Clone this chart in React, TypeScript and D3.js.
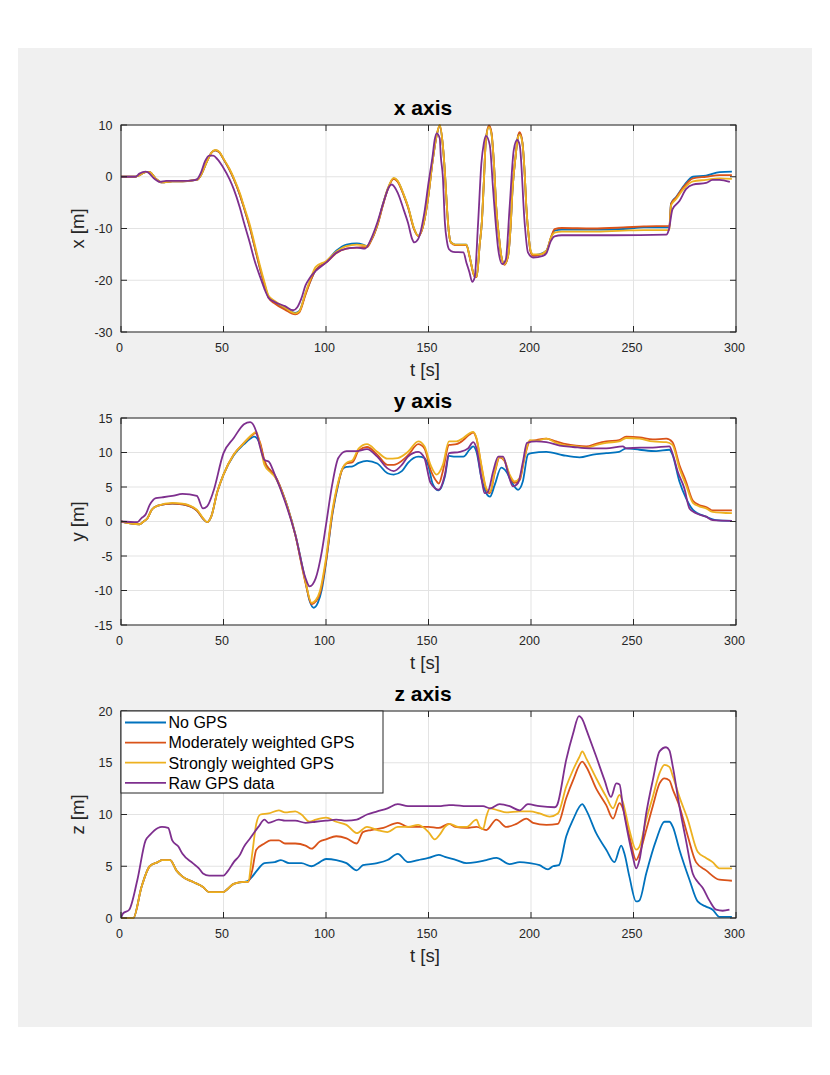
import React from 'react';
import * as d3 from 'd3';

type Pt = [number, number];

const SERIES_NAMES = ['No GPS', 'Moderately weighted GPS', 'Strongly weighted GPS', 'Raw GPS data'];
const COLORS = ['#0072BD', '#D95319', '#EDB120', '#7E2F8E'];
const T_TICKS = [0, 50, 100, 150, 200, 250, 300];
const X_TICKS = [-30, -20, -10, 0, 10];
const Y_TICKS = [-15, -10, -5, 0, 5, 10, 15];
const Z_TICKS = [0, 5, 10, 15, 20];

// ---------- x axis ----------
const xNoGps: Pt[] = [[0,0],[7,0],[9,0.3],[12,0.9],[14,0.9],[17,-0.4],[20,-1.1],[25,-0.9],[30,-0.9],[35,-0.7],[37.5,-0.5],[39,0.3],[42,3],[44,4.6],[46,5.1],[48,4.7],[50,3.4],[53,1.3],[55,-0.4],[58,-3.5],[60,-6],[63,-10],[65,-13.2],[68,-18],[70,-20.8],[72,-23.2],[75,-24.2],[80,-25.4],[85,-26.3],[87,-25.9],[90,-22.6],[92,-20.5],[95,-18],[100,-16.5],[105,-14.3],[110,-13.1],[115,-12.9],[118,-13.1],[120,-13.4],[122,-12.3],[125,-9.4],[128,-5],[130,-2.5],[133,-0.3],[135,-0.9],[138,-3.6],[140,-5.8],[143,-10.1],[145,-11.4],[147,-10],[150,-3.5],[152,3],[154,8],[155.5,9.8],[157,6],[158,0.8],[159,-6],[160,-11],[161,-12.7],[163,-13.1],[168.5,-13.1],[170,-15.3],[172.5,-19.2],[173.5,-19.3],[175,-13],[176,-8.9],[177,-1],[178,7.1],[179.5,9.8],[180.7,8.4],[182,2],[183,-5.7],[184.5,-12],[185.5,-15.3],[187,-16.9],[188.8,-15.3],[190,-10],[191,-2.4],[192.5,4],[193.7,7.9],[194.5,8.4],[195.8,6.6],[197,0],[197.7,-5.7],[199,-12],[199.7,-14.2],[201,-15.1],[204,-15],[207.5,-14.3],[210,-11.5],[211.5,-10.4],[215,-10.2],[230,-10.2],[245,-10.1],[255,-9.8],[267.5,-9.8],[268.3,-5.2],[270.8,-3.9],[275,-1.5],[279,0],[285.4,0.2],[292,0.9],[298,1.0]];
const xModerate: Pt[] = [[0,0],[7,0],[9,0.3],[12,0.9],[14,0.9],[17,-0.4],[20,-1.1],[25,-0.9],[30,-0.9],[35,-0.7],[37.5,-0.5],[39,0.3],[42,3],[44,4.6],[46,5.1],[48,4.7],[50,3.4],[53,1.3],[55,-0.4],[58,-3.5],[60,-6],[63,-10],[65,-13.2],[68,-18],[70,-20.8],[72,-23.4],[75,-24.5],[80,-25.7],[85,-26.6],[87,-26.2],[90,-22.8],[92,-20.6],[95,-18],[100,-16.6],[105,-14.8],[110,-13.9],[115,-13.7],[118,-13.6],[120,-13.6],[122,-12.4],[125,-9.5],[128,-5.2],[130,-2.6],[133,-0.4],[135,-1],[138,-3.7],[140,-5.9],[143,-10.2],[145,-11.5],[147,-10.1],[150,-3.6],[152,3],[154,8],[155.5,9.9],[157,6],[158,0.8],[159,-6],[160,-11],[161,-12.8],[163,-13.2],[168.5,-13.2],[170,-15.4],[172.5,-19.3],[173.5,-19.4],[175,-13],[176,-8.9],[177,-1],[178,7.2],[179.5,9.9],[180.7,8.6],[182,2],[183,-5.7],[184.5,-12],[185.5,-15.3],[187,-17],[188.8,-15.4],[190,-10],[191,-2.4],[192.5,4],[193.7,7.9],[194.5,8.6],[195.8,6.7],[197,0],[197.7,-5.7],[199,-12],[199.7,-14.4],[201,-15.3],[204,-15.1],[207.5,-14.4],[210,-11.4],[211.5,-10.1],[215,-9.9],[230,-10],[245,-9.8],[255,-9.6],[267.5,-9.5],[268.3,-5.3],[270.8,-4],[275,-1.7],[279,-0.3],[285.4,0],[292,0.3],[298,0.3]];
const xStrong: Pt[] = [[0,0],[7,0],[9,0.3],[12,0.9],[14,0.9],[17,-0.4],[20,-1.1],[25,-0.9],[30,-0.9],[35,-0.7],[37.5,-0.5],[39,0.3],[42,3],[44,4.6],[46,5.2],[48,4.8],[50,3.5],[53,1.5],[55,-0.2],[58,-3.2],[60,-5.7],[63,-9.5],[65,-12.7],[68,-17.5],[70,-20.4],[72,-23],[75,-24],[80,-25.3],[85,-26.4],[87,-26],[90,-22.4],[92,-20.2],[95,-17.4],[100,-16.3],[105,-14.5],[110,-13.4],[115,-13.1],[118,-13.2],[120,-13.4],[122,-12.2],[125,-9.3],[128,-5],[130,-2.4],[133,-0.2],[135,-0.8],[138,-3.5],[140,-5.7],[143,-10],[145,-11.4],[147,-10],[150,-3.5],[152,3],[154,8],[155.5,10],[157,6],[158,0.8],[159,-6],[160,-11],[161,-12.7],[163,-13.1],[168.5,-13.1],[170,-15.3],[172.5,-19.2],[173.5,-19.3],[175,-13],[176,-8.9],[177,-1],[178,7.1],[179.5,9.6],[180.7,8.3],[182,2],[183,-5.7],[184.5,-12],[185.5,-15.3],[187,-16.9],[188.8,-15.3],[190,-10],[191,-2.4],[192.5,4],[193.7,7.7],[194.5,8.1],[195.8,6.5],[197,0],[197.7,-5.7],[199,-12],[199.7,-14],[201,-15],[204,-15],[207.5,-14.3],[210,-11.5],[211.5,-10.8],[215,-10.6],[230,-10.6],[245,-10.4],[255,-10.3],[267.5,-10.3],[268.3,-5.6],[270.8,-4.3],[275,-2.1],[279,-0.9],[285.4,-0.6],[292,-0.3],[298,-0.4]];
const xRaw: Pt[] = [[0,0],[7,0],[9,0.6],[12,1.0],[13,0.9],[16,-0.3],[19,-1.0],[22,-0.8],[30,-0.8],[35,-0.7],[37,-0.5],[39,0.8],[41,3],[43,4.1],[45,4.1],[47,3.4],[50,1.7],[53,-0.5],[55,-2.4],[58,-6],[60,-8.9],[63,-13],[65,-16],[68,-19.5],[70,-21.7],[72,-23.4],[75,-24.2],[80,-25],[84,-25.8],[86,-25.2],[88,-23.5],[90,-21],[92,-19.6],[95,-18.2],[100,-16.6],[105,-14.7],[110,-13.9],[115,-13.7],[119,-13.9],[122,-12],[125,-8.9],[128,-5],[131,-1.8],[132,-1.5],[135,-3.1],[138,-6.5],[140,-8.9],[142,-12],[143,-12.7],[145,-12],[148,-6.9],[150,-1.2],[152,4],[153,7.1],[154,8.4],[155.5,7.4],[156,4],[157,0],[158,-8.9],[159,-12.5],[160,-14],[162,-14.5],[167,-14.6],[168.5,-16.6],[170,-18.5],[171.3,-20.3],[172.5,-19.5],[174.2,-8.9],[175.8,2.6],[177,6.5],[178,7.9],[179.9,6.1],[181.5,-2.4],[183,-10],[184,-14],[186,-16.9],[187.7,-16],[189.6,-5.7],[191.6,5.2],[193.2,7.1],[194.5,6.1],[196.9,-8.9],[198.5,-14.6],[201,-15.6],[205.8,-15.3],[207.5,-14.8],[209.6,-12.5],[211.5,-11.5],[215,-11.3],[240,-11.3],[266,-11.2],[267.2,-10.3],[269,-6.3],[272.4,-4.7],[275.6,-2.4],[279,-1.5],[285.4,-1.2],[288.6,-0.6],[292,-0.6],[297,-1.0]];

// ---------- y axis ----------
const yNoGps: Pt[] = [[0,0],[9,-0.4],[11,0],[13,0.5],[15,1.7],[18,2.3],[25,2.6],[30,2.5],[37,1.6],[40,0.4],[42,-0.1],[44,0.7],[47,4.3],[50,6.8],[55,9.6],[60,11.2],[63,12.0],[65,12.3],[68,11.0],[70,8.6],[73,7.3],[75,6.6],[80,3.2],[85,-1.8],[90,-8.7],[92,-11.5],[94,-12.5],[96,-11.8],[98,-9.8],[100,-6],[103,0.8],[106,5.4],[108,7.6],[110,7.9],[113,8.0],[116,8.5],[120,8.8],[125,8.4],[130,7.0],[133,6.8],[137,7.3],[140,8.5],[145,9.4],[148,9.2],[150,8],[152,5.5],[155,4.5],[158,6.5],[160,9.5],[163,9.4],[167,9.4],[170,10.4],[171.8,10.9],[173.4,10.1],[175.8,6.3],[178,4.2],[180,3.6],[182.3,5.3],[185.5,7.8],[188,7.2],[190.4,5.8],[193.7,4.6],[196,5.8],[198.5,9.7],[200.2,9.9],[207.5,10.1],[215.6,9.6],[223.7,9.3],[230.2,9.7],[236.7,9.9],[243,10.1],[246.4,10.6],[253,10.4],[261,10.2],[267.5,10.4],[269,9.7],[272.4,5.8],[275.6,3.4],[279,1.7],[285.4,0.7],[290.3,0.2],[298,0.1]];
const yModerate: Pt[] = [[0,0],[9,-0.4],[11,0],[13,0.5],[15,1.7],[18,2.3],[25,2.6],[30,2.5],[37,1.6],[40,0.4],[42,-0.1],[44,0.7],[47,4.3],[50,6.8],[55,9.7],[60,11.4],[64,12.5],[65.5,12.8],[68,11.3],[70,8.8],[73,7.4],[75,6.7],[80,3.2],[85,-1.9],[90,-8.9],[93,-12.0],[95,-11.6],[97,-10.5],[100,-5.8],[103,1.0],[106,5.6],[108,7.6],[110,8.4],[113,8.6],[116,10.3],[120,10.8],[125,9.7],[130,8.2],[133,8.2],[135,8.4],[140,9.6],[145,11.2],[148,10.6],[151,7.5],[154,5.8],[155,5.5],[157,7.3],[160,11.1],[163.6,11.2],[167,11.8],[170,12.6],[171.8,12.9],[173.4,12.0],[175.8,8.0],[178.2,4.6],[180,4.1],[182.3,7.0],[184.7,9.3],[187,8.8],[189.6,6.6],[192,5.6],[194.5,6.0],[196.9,9.3],[199.4,11.6],[202.6,11.8],[207.5,12.0],[212.3,11.6],[217.2,11.2],[222,11.0],[227,10.9],[232,11.3],[236.7,11.6],[243,11.8],[246.4,12.3],[253,12.2],[259.4,11.9],[266,12.0],[269,11.5],[272.4,8.2],[275.6,5.8],[279,3.0],[282,2.4],[285.4,2.1],[288.6,1.6],[298,1.6]];
const yStrong: Pt[] = [[0,0],[9,-0.4],[11,0],[13,0.5],[15,1.7],[18,2.3],[25,2.7],[30,2.6],[37,1.7],[40,0.5],[42,-0.1],[44,0.7],[47,4.3],[50,6.8],[55,9.7],[60,11.4],[64,12.6],[66,13.0],[68,10.9],[70,8.2],[73,7.1],[75,6.5],[80,3.1],[85,-1.9],[90,-8.7],[93,-11.8],[95,-11.4],[97,-10.1],[100,-5.3],[103,1.4],[106,5.8],[108,7.7],[110,8.5],[113,8.9],[116,10.6],[120,11.2],[125,10.1],[130,9.1],[135,9.2],[140,10.1],[145,11.6],[148,10.9],[151,8.2],[154,6.8],[157,8.2],[160,11.6],[163.6,11.6],[167,12.1],[170,12.8],[171.8,13.0],[173.4,12.1],[175.8,8.2],[178.2,4.8],[180,4.3],[182.3,7.2],[184.7,9.4],[187,8.9],[189.6,6.8],[192,5.8],[194.5,6.3],[196.9,9.4],[199.4,11.8],[202.6,11.7],[207.5,12.0],[212.3,11.4],[217.2,11.0],[222,10.9],[227,10.7],[232,11.1],[236.7,11.4],[243,11.6],[246.4,12.1],[253,12.0],[259.4,11.6],[266,11.5],[269,11.1],[272.4,7.7],[275.6,5.3],[279,2.7],[282,2.2],[285.4,1.9],[288.6,1.4],[298,1.2]];
const yRaw: Pt[] = [[0,0],[8,-0.1],[10,0.5],[12,1],[14,2.4],[17,3.4],[20,3.5],[25,3.7],[30,4.0],[37,3.7],[40,1.9],[42,2.2],[45,4.3],[50,9.9],[55,12.1],[60,14.1],[63,14.4],[66,13.0],[68,10.6],[70,8.9],[72,8.7],[75,6.8],[80,2.9],[85,-1.9],[90,-8.2],[92,-9.4],[95,-8.2],[98,-4.3],[100,-0.5],[103,5.3],[106,9.2],[110,10.2],[115,10.2],[120,10.5],[125,9.4],[130,7.7],[133,7.3],[137,8.2],[140,9.4],[145,10.1],[148,9.2],[151,5.6],[155,4.6],[158,6.8],[160,9.9],[165.3,10.1],[169.3,10.6],[171.8,11.5],[173.4,10.6],[175.8,6.3],[177.4,4.1],[179,4.3],[181.5,7.2],[184,9.4],[186.4,9.4],[188.8,7.0],[191.2,5.1],[193.7,5.6],[196.1,8.7],[198,11.4],[202.6,11.6],[207.5,11.5],[214,11.0],[220.5,10.8],[228.6,10.6],[236.7,10.6],[244.8,10.9],[246.4,10.6],[253,10.7],[259.4,10.7],[267.5,10.9],[269,9.9],[271.6,7.2],[274.8,4.8],[277.3,1.9],[280.5,1.2],[285.4,0.7],[288.6,0.2],[298,0.1]];

// ---------- z axis ----------
const zNoGps: Pt[] = [[0,0],[6,0],[10,3.0],[14,5.0],[18,5.4],[20,5.6],[24,5.6],[27,4.6],[30,4.0],[35,3.5],[40,3.0],[43,2.5],[50,2.5],[52,2.8],[55,3.3],[60,3.5],[62,3.6],[64,4.0],[66,4.5],[70,5.3],[75,5.4],[78,5.6],[82,5.3],[88,5.3],[93,5.0],[97,5.4],[100,5.7],[105,5.6],[110,5.3],[115,4.6],[118,5.1],[125,5.3],[130,5.6],[135,6.2],[140,5.4],[145,5.6],[150,5.8],[155,6.1],[158,5.9],[163.6,5.6],[168.5,5.3],[173.4,5.4],[178.2,5.6],[183.1,5.8],[189.6,5.2],[194.5,5.4],[199.4,5.3],[204.2,5.1],[208.3,4.7],[210.7,5.0],[213.6,5.1],[217.2,7.9],[220.5,9.5],[225,11.0],[227,10.4],[231.8,8.2],[236.7,6.6],[240.7,5.4],[244,7.0],[245.6,6.2],[248,4.0],[251.3,1.6],[252.9,1.7],[256.2,4.3],[261,7.5],[265.1,9.3],[267.5,9.3],[269.2,8.8],[272.4,6.6],[277.3,3.7],[281.3,1.6],[285.4,1.1],[288.6,0.8],[291.9,0.1],[298,0.1]];
const zModerate: Pt[] = [[0,0],[6,0],[10,3.0],[14,5.0],[18,5.4],[20,5.6],[24,5.6],[27,4.6],[30,4.0],[35,3.5],[40,3.0],[43,2.5],[50,2.5],[52,2.8],[55,3.3],[60,3.5],[62,3.5],[64,4.6],[66,6.6],[70,7.2],[73,7.5],[77,7.5],[80,7.2],[85,7.2],[90,7.0],[93,6.7],[97,7.4],[100,7.6],[105,7.9],[110,7.7],[115,7.2],[118,8.3],[122,8.5],[128,8.7],[135,9.2],[140,8.8],[145,8.8],[150,8.8],[155,8.7],[160,9.1],[163,8.8],[168.5,8.7],[173.4,8.8],[178.2,8.5],[183.1,9.5],[188,8.8],[192.9,9.1],[197.7,9.6],[201,9.2],[207.5,9.0],[213.1,9.1],[217.2,11.6],[220.5,13.3],[225,15.1],[227,14.6],[231.8,12.5],[236.7,10.9],[240,9.6],[243.2,11.1],[244.8,10.6],[248,7.9],[251.3,5.6],[252.9,6.2],[256.2,8.5],[259.4,10.8],[262.7,13.0],[265.1,13.5],[267.5,13.3],[269.2,12.4],[272.4,10.8],[276.5,7.9],[280.5,5.4],[285.4,4.6],[291.9,3.7],[298,3.6]];
const zStrong: Pt[] = [[0,0],[6,0],[10,3.0],[14,5.0],[18,5.4],[20,5.6],[24,5.6],[27,4.6],[30,4.0],[35,3.5],[40,3.0],[43,2.5],[50,2.5],[52,2.8],[55,3.3],[60,3.5],[62,3.5],[64,6.2],[66,9.1],[68,10.0],[72,10.1],[77,10.4],[80,10.2],[85,10.3],[88,10.0],[92,9.3],[95,9.5],[100,9.7],[105,9.3],[110,9.0],[115,8.2],[120,8.8],[125,8.5],[130,8.3],[135,8.8],[140,8.8],[145,9.0],[150,8.3],[153,7.6],[156,8.2],[158,8.8],[160.4,9.1],[164.4,8.8],[168.5,8.8],[173.4,9.5],[175,8.8],[176.6,8.6],[178.2,9.8],[179.9,10.6],[183.9,10.4],[188,10.2],[194.5,10.3],[199.4,10.3],[204.2,10.1],[209.1,9.8],[213.1,10.1],[217.2,12.7],[220.5,14.3],[223.7,15.6],[225,16.1],[227,15.4],[231.8,13.5],[236.7,11.7],[240,10.6],[243.2,11.9],[244.8,11.2],[248,8.5],[251.3,6.6],[252.9,6.9],[256.2,9.5],[259.4,11.7],[262.7,14.0],[265.1,14.8],[267.5,14.6],[269.2,13.7],[272.4,11.7],[276.5,9.5],[281.3,6.4],[285.4,5.8],[288.6,5.4],[291.9,4.8],[298,4.8]];
const zRaw: Pt[] = [[0,0],[1,0.45],[4,0.8],[8,3.7],[12,7.5],[14,8.0],[18,8.7],[20,8.8],[23,8.7],[25,7.5],[28,6.9],[30,6.2],[35,5.3],[38,4.8],[40,4.3],[43,4.1],[50,4.1],[52,4.5],[55,5.4],[58,6.1],[60,6.9],[63,7.7],[67,8.8],[70,9.5],[72,9.2],[77,9.5],[80,9.4],[85,9.4],[90,9.2],[95,9.3],[100,9.4],[105,9.5],[110,9.4],[115,9.5],[120,10.0],[125,10.3],[130,10.6],[135,11.0],[140,10.8],[145,10.8],[150,10.8],[155,10.8],[160,10.9],[162,10.9],[168.5,10.8],[176.6,10.8],[180,10.6],[184.7,11.0],[189.6,10.8],[194.5,10.4],[198.5,11.0],[204.2,10.8],[211.5,10.7],[212.7,10.9],[217.2,15.3],[220.5,17.8],[223.4,19.5],[225.3,19.1],[227,18.2],[231.8,15.6],[235.9,13.3],[239,11.7],[241.6,13.0],[243.2,12.9],[244.8,10.8],[247.2,8.2],[249.7,5.9],[251.3,4.8],[252.9,5.6],[256.2,10.1],[259.4,13.3],[262.7,16.1],[265.9,16.5],[267.5,16.2],[269.2,14.6],[272.4,10.8],[275.6,7.5],[278.9,4.3],[281.3,3.5],[283.8,2.9],[287,1.7],[290.3,0.8],[293.5,0.7],[296.8,0.8]];

const FONT = '"Liberation Sans", Arial, Helvetica, sans-serif';
const AX = '#262626';

interface PanelProps {
  id: string;
  top: number;
  domain: [number, number];
  ticks: number[];
  data: Pt[][];
  title: string;
  ylabel: string;
  legend?: boolean;
}

function Panel({ id, top, domain, ticks, data, title, ylabel, legend }: PanelProps) {
  const left = 121, right = 736, h = 207;
  const bottom = top + h;
  const x = d3.scaleLinear().domain([0, 300]).range([left, right]);
  const y = d3.scaleLinear().domain(domain).range([bottom, top]);
  const line = d3.line<Pt>().x(d => x(d[0])).y(d => y(d[1])).curve(d3.curveMonotoneX);
  const tl = 6;
  return (
    <g>
      <defs>
        <clipPath id={`clip-${id}`}>
          <rect x={left} y={top - 1} width={right - left} height={h + 2} />
        </clipPath>
      </defs>
      <rect x={left} y={top} width={right - left} height={h} fill="#ffffff" />
      {T_TICKS.map(t => (
        <line key={`gx${t}`} x1={x(t)} x2={x(t)} y1={top} y2={bottom} stroke="#e3e3e3" strokeWidth={1} />
      ))}
      {ticks.map(v => (
        <line key={`gy${v}`} x1={left} x2={right} y1={y(v)} y2={y(v)} stroke="#e3e3e3" strokeWidth={1} />
      ))}
      <g clipPath={`url(#clip-${id})`}>
        {data.map((s, i) => (
          <path key={i} d={line(s) || ''} fill="none" stroke={COLORS[i]} strokeWidth={1.8} strokeLinejoin="round" />
        ))}
      </g>
      <rect x={left} y={top} width={right - left} height={h} fill="none" stroke={AX} strokeWidth={1} />
      {T_TICKS.map(t => (
        <g key={`tx${t}`}>
          <line x1={x(t)} x2={x(t)} y1={bottom} y2={bottom - tl} stroke={AX} />
          <line x1={x(t)} x2={x(t)} y1={top} y2={top + tl} stroke={AX} />
          <text x={x(t) - 1.5} y={bottom + 19.5} textAnchor="middle" fontSize={12.5} fontFamily={FONT} fill={AX}>{t}</text>
        </g>
      ))}
      {ticks.map(v => (
        <g key={`ty${v}`}>
          <line x1={left} x2={left + tl} y1={y(v)} y2={y(v)} stroke={AX} />
          <line x1={right} x2={right - tl} y1={y(v)} y2={y(v)} stroke={AX} />
          <text x={left - 8.5} y={y(v) + 4.5} textAnchor="end" fontSize={12.5} fontFamily={FONT} fill={AX}>{v}</text>
        </g>
      ))}
      <text x={423} y={top - 10} textAnchor="middle" fontSize={21} fontWeight="bold" fontFamily={FONT} fill="#000">{title}</text>
      <text x={425} y={bottom + 44} textAnchor="middle" fontSize={18.5} fontFamily={FONT} fill={AX}>t [s]</text>
      <text transform={`translate(84,${(top + bottom) / 2}) rotate(-90)`} textAnchor="middle" fontSize={18.5} fontFamily={FONT} fill={AX}>{ylabel}</text>
      {legend && (
        <g>
          <rect x={left} y={top} width={262} height={82} fill="#ffffff" stroke={AX} strokeWidth={1} />
          {SERIES_NAMES.map((n, i) => (
            <g key={n}>
              <line x1={125} x2={166} y1={top + 11.5 + i * 20.1} y2={top + 11.5 + i * 20.1} stroke={COLORS[i]} strokeWidth={1.8} />
              <text x={168.5} y={top + 11.5 + i * 20.1 + 5.8} fontSize={16} fontFamily={FONT} fill="#000">{n}</text>
            </g>
          ))}
        </g>
      )}
    </g>
  );
}

export default function App() {
  return (
    <svg width={830} height={1075} style={{ position: 'absolute', left: 0, top: 0, background: '#ffffff' }}>
      <rect x={18} y={48} width={794} height={979} fill="#f0f0f0" />
      <Panel id="x" top={125} domain={[-30, 10]} ticks={X_TICKS} data={[xNoGps, xModerate, xStrong, xRaw]} title="x axis" ylabel="x [m]" />
      <Panel id="y" top={418} domain={[-15, 15]} ticks={Y_TICKS} data={[yNoGps, yModerate, yStrong, yRaw]} title="y axis" ylabel="y [m]" />
      <Panel id="z" top={711} domain={[0, 20]} ticks={Z_TICKS} data={[zNoGps, zModerate, zStrong, zRaw]} title="z axis" ylabel="z [m]" legend />
    </svg>
  );
}
